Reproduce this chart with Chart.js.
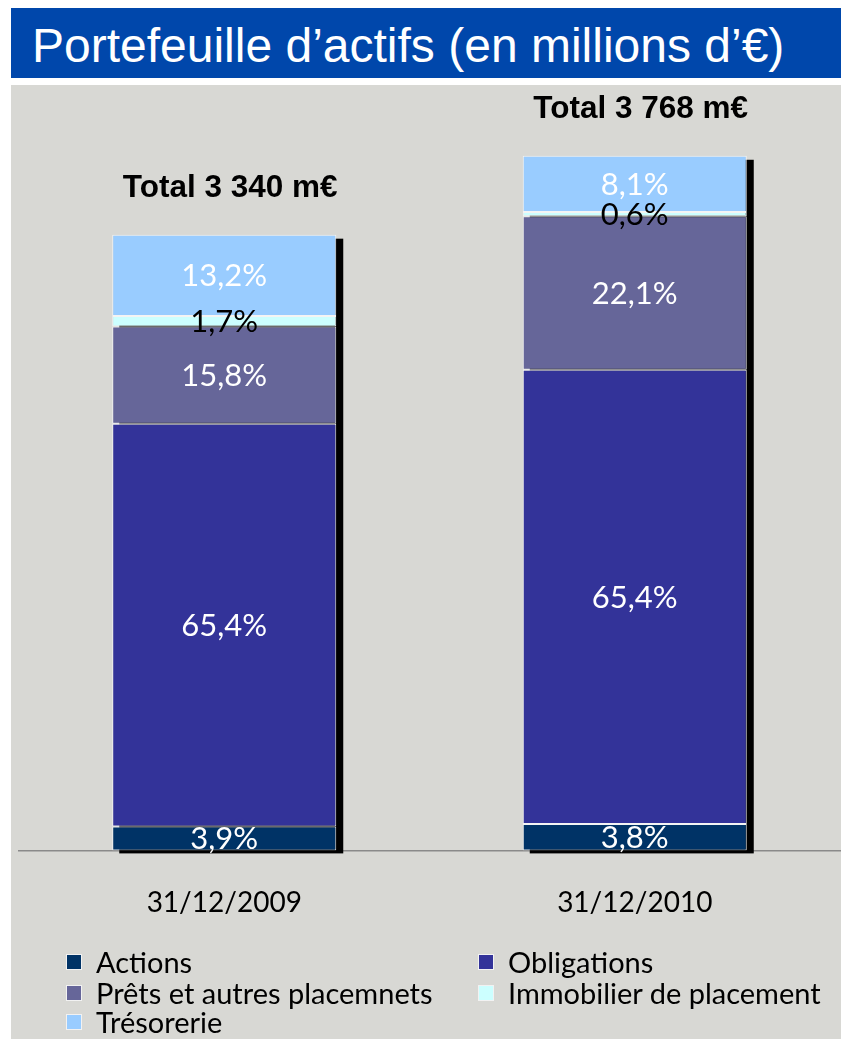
<!DOCTYPE html>
<html>
<head>
<meta charset="utf-8">
<script src="https://cdn.jsdelivr.net/npm/chart.js@4/dist/chart.umd.min.js"></script>
<style>
  html, body { margin: 0; padding: 0; background: #ffffff; width: 841px; height: 1039px; overflow: hidden; }
  #band { position: absolute; left: 11px; top: 8px; width: 830px; height: 70px; background: #0047AB; }
  #title { position: absolute; left: 21px; top: 11px; margin: 0; font-family: "Liberation Sans", Arial, sans-serif;
           font-weight: normal; font-size: 48px; line-height: 54px; color: #ffffff; white-space: nowrap; }
  #panel { position: absolute; left: 11px; top: 85px; width: 830px; height: 954px; background: #D8D8D4; }
  #chartBox { position: absolute; left: 0; top: 0; width: 830px; height: 892px; }
  #legend { position: absolute; left: 0; top: 0; font-family: Lato, "Open Sans", sans-serif; font-size: 29px; color: #000; }
  .item { position: absolute; height: 30px; line-height: 30px; white-space: nowrap; }
  .sw { position: absolute; left: 0; top: 7px; width: 14px; height: 14px; border: 1px solid #f2f2f2; }
  .lbl { position: absolute; left: 30px; top: 0; }
</style>
</head>
<body>
<div id="band"><h1 id="title">Portefeuille d’actifs (en millions d’€)</h1></div>
<div id="panel">
  <div id="chartBox"><canvas id="c" width="830" height="892"></canvas></div>
  <div id="legend"></div>
</div>
<script>
// ---- data ----
const categories = ['31/12/2009', '31/12/2010'];
const totals = [3340, 3768];
const seriesNames = ['Actions', 'Obligations', 'Prêts et autres placemnets', 'Immobilier de placement', 'Trésorerie'];
const actionsPct = [3.9, 3.8];
const obligationsPct = [65.4, 65.4];
const pretsPct = [15.8, 22.1];
const immobilierPct = [1.7, 0.6];
const tresoreriePct = [13.2, 8.1];
const seriesColors = ['#003366', '#333399', '#666699', '#CCFFFF', '#99CCFF'];
const labelColors = ['#ffffff', '#ffffff', '#ffffff', '#000000', '#ffffff'];

const pctSeries = [actionsPct, obligationsPct, pretsPct, immobilierPct, tresoreriePct];

const datasets = pctSeries.map((pcts, i) => ({
  label: seriesNames[i],
  data: pcts.map((p, j) => p * totals[j] / 100),
  pct: pcts,
  backgroundColor: seriesColors[i],
  borderColor: '#f4f4f4',
  borderWidth: 1,
  borderSkipped: false,
  barPercentage: 0.5457,
  categoryPercentage: 1.0
}));

function fmtPct(p) { return p.toFixed(1).replace('.', ',') + '%'; }
function fmtTotal(n) { return 'Total ' + String(n).replace(/\B(?=(\d{3})+(?!\d))/g, ' ') + ' m€'; }

const shadowPlugin = {
  id: 'shadow',
  beforeDatasetsDraw(chart) {
    const ctx = chart.ctx;
    const first = chart.getDatasetMeta(0);
    const last = chart.getDatasetMeta(chart.data.datasets.length - 1);
    ctx.save();
    ctx.fillStyle = '#000000';
    first.data.forEach((bar, j) => {
      const topBar = last.data[j];
      const half = bar.width / 2;
      const left = bar.x - half + 7;
      const right = bar.x + half + 7;
      const top = topBar.y + 4;
      const bottom = bar.base + 3;
      ctx.fillRect(left, top, right - left, bottom - top);
    });
    ctx.restore();
  }
};

const labelPlugin = {
  id: 'segLabels',
  afterDatasetsDraw(chart) {
    const ctx = chart.ctx;
    ctx.save();
    ctx.textAlign = 'center';
    ctx.textBaseline = 'middle';
    ctx.font = '31px Lato, "Open Sans", sans-serif';
    chart.data.datasets.forEach((ds, i) => {
      const meta = chart.getDatasetMeta(i);
      ctx.fillStyle = labelColors[i];
      meta.data.forEach((bar, j) => {
        const y = (bar.y + bar.base) / 2 + 1;
        ctx.fillText(fmtPct(ds.pct[j]), bar.x, y);
      });
    });
    // totals
    const last = chart.getDatasetMeta(chart.data.datasets.length - 1);
    ctx.fillStyle = '#000000';
    ctx.font = 'bold 31.5px "Liberation Sans", Arial, sans-serif';
    last.data.forEach((bar, j) => {
      ctx.fillText(fmtTotal(totals[j]), bar.x + 6, bar.y - 46);
    });
    ctx.restore();
  }
};

const chart = new Chart(document.getElementById('c'), {
  type: 'bar',
  data: { labels: categories, datasets },
  options: {
    responsive: false,
    animation: false,
    devicePixelRatio: 1,
    layout: { padding: { top: 28, left: 8, right: 1, bottom: 21 } },
    plugins: { legend: { display: false }, tooltip: { enabled: false }, title: { display: false } },
    scales: {
      x: {
        stacked: true,
        grid: { display: false, drawTicks: false },
        border: { display: true, color: '#8a8a8a', width: 1.5 },
        ticks: { color: '#000000', padding: 36, font: { family: 'Lato, "Open Sans", sans-serif', size: 28, lineHeight: 1.2 } }
      },
      y: {
        stacked: true,
        display: false,
        min: 0,
        max: 4000
      }
    }
  },
  plugins: [shadowPlugin, labelPlugin]
});

// ---- legend (HTML, from series names / colours) ----
const legendPos = [
  { x: 55, y: 877 }, { x: 467, y: 877 },
  { x: 55, y: 908 }, { x: 467, y: 908 },
  { x: 55, y: 937 }
];
const legend = document.getElementById('legend');
seriesNames.forEach((name, i) => {
  const it = document.createElement('div');
  it.className = 'item';
  it.style.left = legendPos[i].x + 'px';
  it.style.top = (legendPos[i].y - 15) + 'px';
  const sw = document.createElement('span');
  sw.className = 'sw';
  sw.style.background = seriesColors[i];
  const lb = document.createElement('span');
  lb.className = 'lbl';
  lb.textContent = name;
  it.appendChild(sw); it.appendChild(lb);
  legend.appendChild(it);
});
</script>
</body>
</html>
